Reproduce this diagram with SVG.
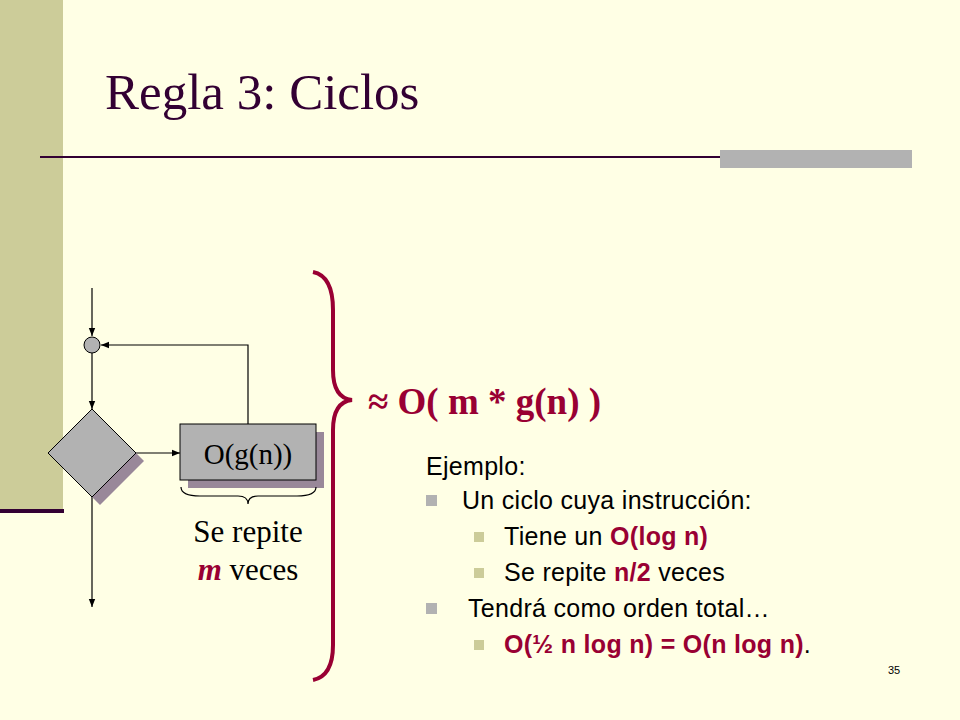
<svg xmlns="http://www.w3.org/2000/svg" width="960" height="720" viewBox="0 0 960 720">
<defs>
<marker id="ar" viewBox="0 0 10 10" refX="10" refY="5" markerWidth="7" markerHeight="7" orient="auto"><path d="M0,1 L10,5 L0,9 z" fill="#000"/></marker>
<style>
.ln{stroke:#000;stroke-width:1.2;fill:none}
.sans{font-family:"Liberation Sans",Arial,sans-serif;font-size:25px;fill:#000;letter-spacing:0.3px}
.red{fill:#990033;font-weight:bold}
.ser{font-family:"Liberation Serif","Times New Roman",serif}
</style>
</defs>
<rect width="960" height="720" fill="#FFFFE5"/>
<rect x="0" y="0" width="63" height="510" fill="#CCCC99"/>
<rect x="0" y="509" width="64" height="4" fill="#330033"/>
<line x1="40" y1="157" x2="912" y2="157" stroke="#330033" stroke-width="2"/>
<rect x="720" y="150" width="192" height="18" fill="#B2B2B2"/>
<text x="105" y="109" class="ser" font-size="51" fill="#330033">Regla 3: Ciclos</text>
<g id="connectors">
<line class="ln" x1="92" y1="288" x2="92" y2="336" marker-end="url(#ar)"/>
<polyline class="ln" points="248,424 248,345 101,345" marker-end="url(#ar)"/>
<line class="ln" x1="92" y1="353" x2="92" y2="409" marker-end="url(#ar)"/>
<line class="ln" x1="136" y1="453" x2="180" y2="453" marker-end="url(#ar)"/>
<line class="ln" x1="92" y1="497" x2="92" y2="607" marker-end="url(#ar)"/>
</g>
<g id="circle"><circle cx="92" cy="345" r="8" fill="#B2B2B2" stroke="#000" stroke-width="1"/></g>
<g id="decision">
<polygon points="100,417 144,461 100,505 56,461" fill="#998899"/>
<polygon points="92,409 136,453 92,497 48,453" fill="#B2B2B2" stroke="#000" stroke-width="1"/>
</g>
<g id="process">
<rect x="188" y="432" width="136" height="56" fill="#998899"/>
<rect x="180" y="424" width="136" height="56" fill="#B2B2B2" stroke="#000" stroke-width="1"/>
<text x="248" y="464" text-anchor="middle" class="ser" font-size="29">O(g(n))</text>
</g>
<path d="M181,487 Q181,496 200,496 L238,496 Q248,496 248,504 Q248,496 258,496 L297,496 Q316,496 316,487" class="ln" stroke-width="1"/>
<text x="248" y="542" text-anchor="middle" class="ser" font-size="31">Se repite</text>
<text x="248" y="580" text-anchor="middle" class="ser" font-size="31"><tspan fill="#990033" font-weight="bold" font-style="italic">m</tspan> veces</text>
<path d="M313,272 Q333,276 333,310 L333,370 Q333,398 352,400 Q333,402 333,430 L333,645 Q333,676 313,680" fill="none" stroke="#990033" stroke-width="4"/>
<text x="368" y="414" class="ser" font-size="37" font-weight="bold" fill="#990033">≈ O( m * g(n) )</text>
<g>
<text x="426" y="475" class="sans">Ejemplo:</text>
<rect x="426" y="495" width="11" height="11" fill="#B2B2B2"/>
<text x="462" y="509" class="sans">Un ciclo cuya instrucción:</text>
<rect x="474" y="532" width="10" height="10" fill="#CCCC99"/>
<text x="504" y="545" class="sans">Tiene un  <tspan class="red">O(log n)</tspan></text>
<rect x="474" y="568" width="10" height="10" fill="#CCCC99"/>
<text x="504" y="581" class="sans">Se repite <tspan class="red">n/2</tspan> veces</text>
<rect x="426" y="603" width="11" height="11" fill="#B2B2B2"/>
<text x="468" y="617" class="sans">Tendrá como orden total…</text>
<rect x="474" y="640" width="10" height="10" fill="#CCCC99"/>
<text x="504" y="653" class="sans"><tspan class="red">O(½ n log n) = O(n log n)</tspan>.</text>
</g>
<text x="888" y="674" font-family="Liberation Sans,sans-serif" font-size="11" fill="#000">35</text>
</svg>
